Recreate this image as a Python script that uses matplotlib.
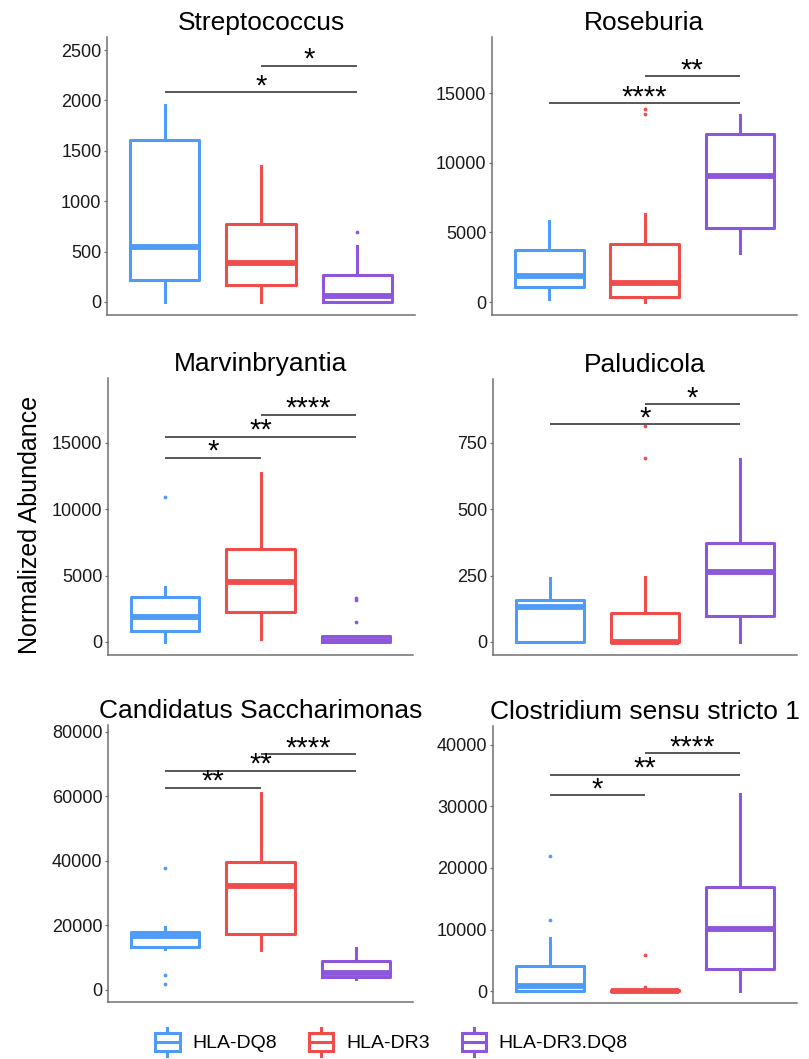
import matplotlib
matplotlib.use("Agg")
import matplotlib.pyplot as plt
from matplotlib.legend_handler import HandlerBase
from matplotlib.patches import Rectangle, Patch
from matplotlib.lines import Line2D

plt.rcParams['font.family'] = ['Liberation Sans', 'DejaVu Sans']

groups = ["HLA-DQ8", "HLA-DR3", "HLA-DR3.DQ8"]
colors = ["#4F9BFA", "#EF4D4C", "#8C57DB"]

titles = ["Streptococcus", "Roseburia", "Marvinbryantia", "Paludicola",
          "Candidatus Saccharimonas", "Clostridium sensu stricto 1"]

# box stats per panel: (whislo, q1, med, q3, whishi) for each group
strep_stats = [(0, 218, 545, 1610, 1951), (0, 169, 384, 777, 1352), (0, 0, 63, 265, 558)]
strep_fliers = [[], [], [697]]
rose_stats = [(215, 1076, 1866, 3732, 5835), (20, 380, 1340, 4186, 6340), (3540, 5290, 9065, 12036, 13421)]
rose_fliers = [[], [13500, 13850], []]
marv_stats = [(0, 829, 1910, 3366, 4170), (200, 2287, 4548, 6990, 12765), (0, 0, 100, 450, 450)]
marv_fliers = [[10955], [], [1533, 3150, 3300]]
palu_stats = [(0, 0, 130, 158, 240), (0, 0, 0, 108, 244), (0, 99, 263, 373, 691)]
palu_fliers = [[], [695, 814], []]
cand_stats = [(12620, 13440, 16745, 18080, 19440), (12400, 17365, 32350, 39790, 61190), (3310, 4130, 5370, 9090, 13130)]
cand_fliers = [[1860, 4650, 37930], [], []]
clos_stats = [(0, 50, 813, 4065, 8670), (0, 0, 50, 200, 300), (0, 3525, 10130, 16860, 32030)]
clos_fliers = [[11600, 22000], [600, 5850], []]

all_stats = [strep_stats, rose_stats, marv_stats, palu_stats, cand_stats, clos_stats]
all_fliers = [strep_fliers, rose_fliers, marv_fliers, palu_fliers, cand_fliers, clos_fliers]

# significance brackets: (group a, group b, height, label)
strep_sig = [(1, 3, 2083, "*"), (2, 3, 2344, "*")]
rose_sig = [(1, 3, 14282, "****"), (2, 3, 16220, "**")]
marv_sig = [(1, 2, 13891, "*"), (1, 3, 15474, "**"), (2, 3, 17133, "****")]
palu_sig = [(1, 3, 822, "*"), (2, 3, 896, "*")]
cand_sig = [(1, 2, 62740, "**"), (1, 3, 68010, "**"), (2, 3, 73180, "****")]
clos_sig = [(1, 2, 31820, "*"), (1, 3, 35170, "**"), (2, 3, 38650, "****")]
all_sig = [strep_sig, rose_sig, marv_sig, palu_sig, cand_sig, clos_sig]

yticks = [[0, 500, 1000, 1500, 2000, 2500],
          [0, 5000, 10000, 15000],
          [0, 5000, 10000, 15000],
          [0, 250, 500, 750],
          [0, 20000, 40000, 60000, 80000],
          [0, 10000, 20000, 30000, 40000]]
ylims = [(-129, 2629), (-933, 19020), (-980, 19899), (-49, 991), (-3721, 82170), (-1951, 43089)]

W, H = 809, 1059
fig = plt.figure(figsize=(W / 100, H / 100), dpi=100)

# axes rectangles in pixels: (x0, y0_top, x1, y1_bottom)
rects = [(107, 37, 415, 315), (492, 37, 797, 315),
         (108, 378, 413, 655), (493, 379, 797, 655),
         (108, 725, 413, 1002), (493, 726, 797, 1003)]

spine_col = "#707070"
for i, (x0, y0, x1, y1) in enumerate(rects):
    ax = fig.add_axes([x0 / W, 1 - y1 / H, (x1 - x0) / W, (y1 - y0) / H])
    stats = []
    for s, fl, g in zip(all_stats[i], all_fliers[i], groups):
        stats.append(dict(whislo=s[0], q1=s[1], med=s[2], q3=s[3], whishi=s[4], fliers=fl, label=g))
    for k in range(3):
        c = colors[k]
        ax.bxp([stats[k]], positions=[k + 1], widths=0.72, showcaps=False,
               patch_artist=False,
               boxprops=dict(color=c, linewidth=2.2),
               whiskerprops=dict(color=c, linewidth=2.2),
               medianprops=dict(color=c, linewidth=4.2, solid_capstyle='butt'),
               flierprops=dict(marker='o', markersize=1.7, markerfacecolor=c,
                               markeredgecolor=c, linestyle='none'))
    for a, b, h, lab in all_sig[i]:
        ax.plot([a, b], [h, h], color="#4a4a4a", linewidth=1.3, solid_capstyle='butt')
        ax.annotate(lab, xy=((a + b) / 2, h), xytext=(0, -1.6), textcoords='offset points',
                    ha='center', va='baseline', fontsize=21, color='black')
    ax.set_xlim(0.4, 3.6)
    ax.set_ylim(*ylims[i])
    ax.set_yticks(yticks[i])
    ax.set_yticklabels([str(t) for t in yticks[i]])
    ax.set_xticks([])
    for side in ['top', 'right']:
        ax.spines[side].set_visible(False)
    for side in ['left', 'bottom']:
        ax.spines[side].set_color(spine_col)
        ax.spines[side].set_linewidth(1.1)
    ax.tick_params(axis='y', length=2.5, width=0.9, color=spine_col, pad=1.5,
                   labelsize=13, labelcolor='#1a1a1a')
    ax.set_title(titles[i], fontsize=19, pad=5)

fig.text(30 / W, 1 - 525 / H, "Normalized Abundance", rotation=90,
         ha='center', va='center', fontsize=18)


class BoxKeyHandler(HandlerBase):
    def create_artists(self, legend, orig_handle, xdescent, ydescent, width, height, fontsize, trans):
        c = orig_handle.get_edgecolor()
        x0, y0 = -xdescent, -ydescent
        bx0 = x0 + 0.04 * width
        bw = 0.92 * width
        by0 = y0 + 0.18 * height
        bh = 0.64 * height
        rect = Rectangle((bx0, by0), bw, bh, facecolor='white', edgecolor=c,
                         linewidth=2.2, transform=trans)
        xm = x0 + width / 2
        ym = y0 + height / 2
        med = Line2D([bx0, bx0 + bw], [ym, ym], color=c, linewidth=2.2, transform=trans)
        w1 = Line2D([xm, xm], [y0 - 0.02 * height, by0], color=c, linewidth=2.2, transform=trans)
        w2 = Line2D([xm, xm], [by0 + bh, y0 + 1.02 * height], color=c, linewidth=2.2, transform=trans)
        return [rect, med, w1, w2]


handles = [Patch(facecolor='white', edgecolor=c) for c in colors]
fig.legend(handles, groups, loc='center', bbox_to_anchor=(391 / W, 17 / H), ncol=3,
           frameon=False, fontsize=14, handlelength=1.35, handleheight=1.75,
           handletextpad=0.6, columnspacing=1.6,
           handler_map={Patch: BoxKeyHandler()})

fig.savefig("out.png", dpi=100)
